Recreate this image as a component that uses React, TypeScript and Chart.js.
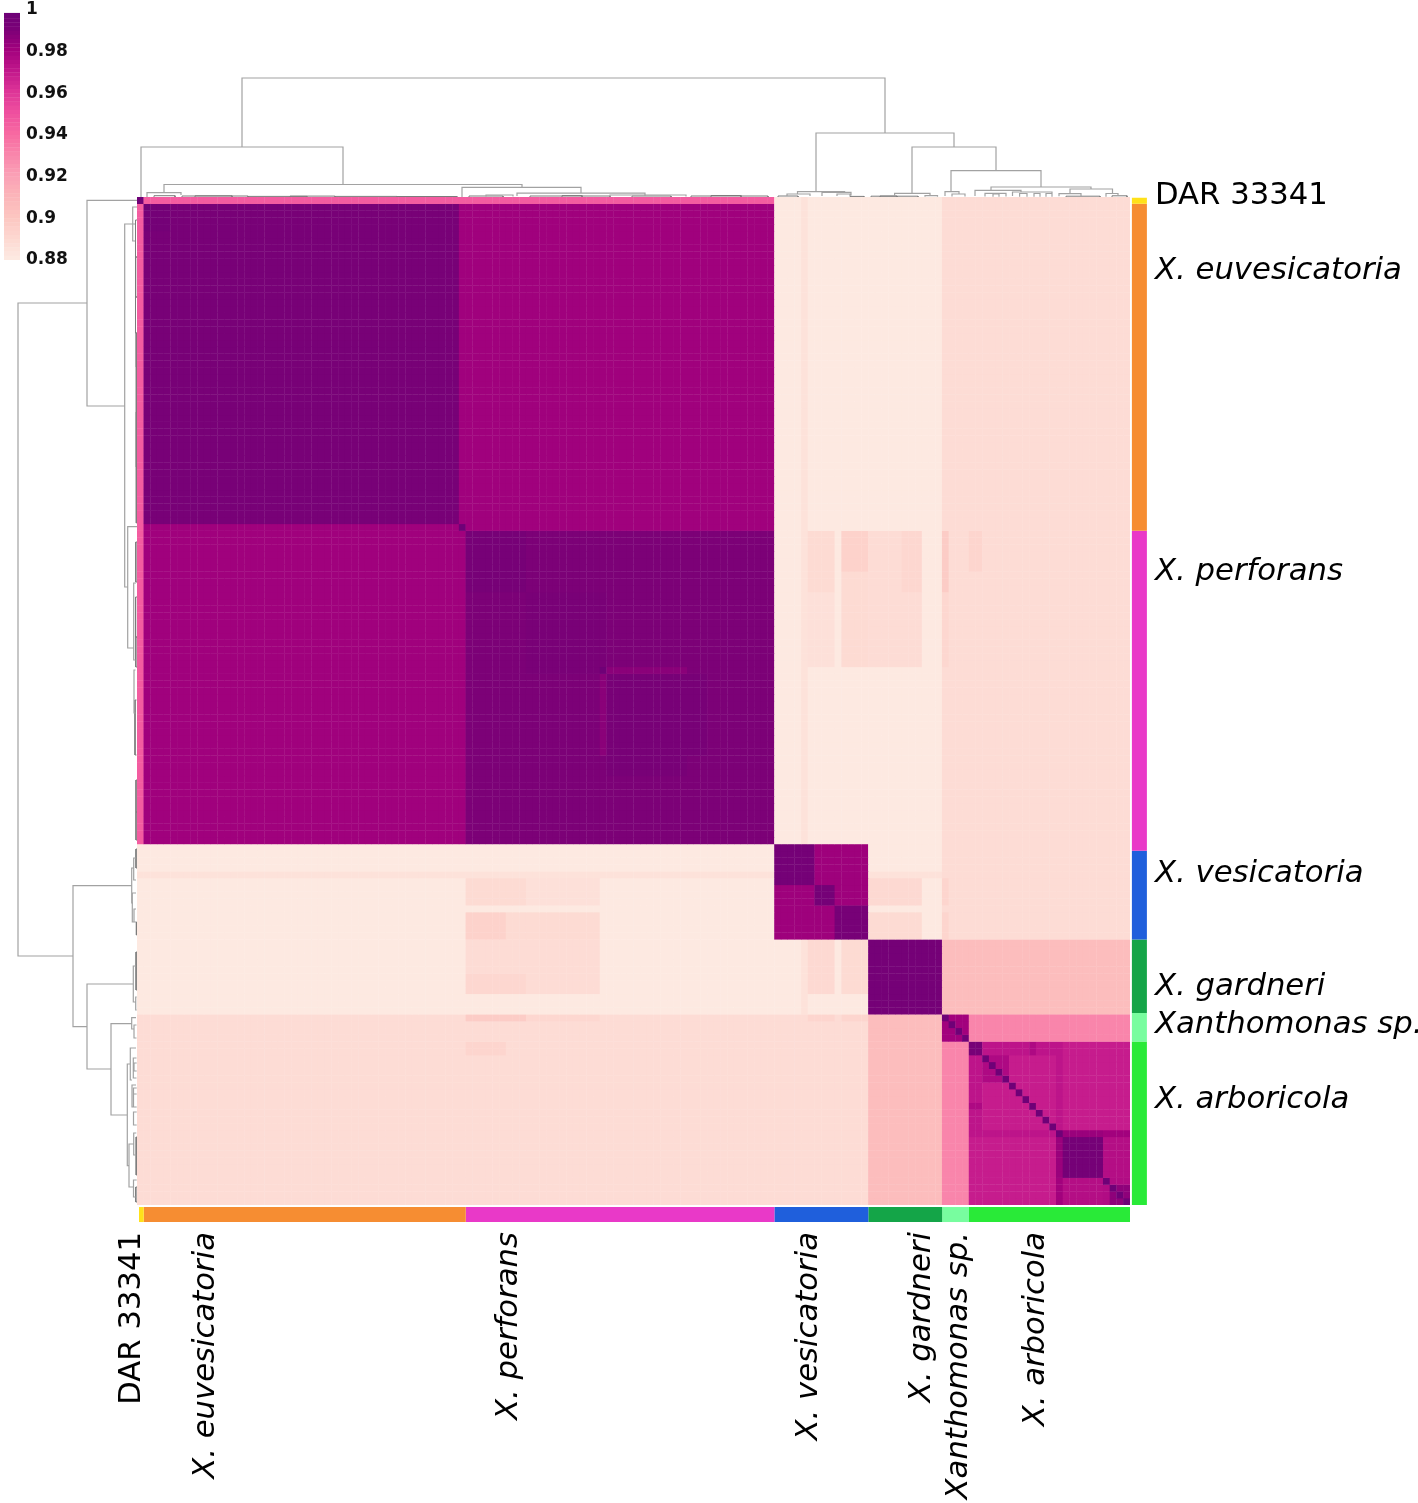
import React, { useEffect, useRef } from "react";
import { Chart, registerables } from "chart.js";

Chart.register(...registerables);

// ---------- data ----------
const GENOME_COUNT = 148;
const BASE_VALUE = 0.88;

// group boundaries (genome index) and colours of the annotation strips
const groupNames = ["DAR 33341", "X. euvesicatoria", "X. perforans", "X. vesicatoria", "X. gardneri", "Xanthomonas sp.", "X. arboricola"];
const columnGroupStarts = [0.3, 1, 49, 95, 109, 120, 124, 148];
const rowGroupStarts = [0.1, 1, 49, 96, 109, 119.8, 124, 148];
const groupColors = ["#ffe11a", "#f68d32", "#e939c8", "#1f5fdc", "#14a548", "#78fd9f", "#29ea38"];

// label anchors along each axis (genome index)
const xLabelAt = [-0.75, 10.25, 55.45, 100.15, 116.95, 122.55, 133.95];
const yLabelAt = [-0.14, 10.9, 55.1, 99.4, 116, 121.6, 132.6];

// identity blocks: [col0, col1, row0, row1, value], mirrored over the diagonal
const heatBlocks: number[][] = [
  [0, 1, 1, 95, 0.945],
  [120, 148, 0, 109, 0.887],
  [99, 100, 0, 95, 0.884],
  [109, 120, 99, 100, 0.884],
  [100, 104, 49, 69, 0.885],
  [100, 104, 49, 58, 0.888],
  [105, 109, 49, 69, 0.888],
  [105, 109, 49, 55, 0.893],
  [109, 117, 49, 69, 0.887],
  [114, 117, 49, 58, 0.89],
  [120, 121, 49, 69, 0.89],
  [120, 121, 49, 58, 0.896],
  [124, 126, 49, 55, 0.891],
  [109, 117, 100, 104, 0.889],
  [109, 117, 105, 109, 0.888],
  [120, 121, 100, 104, 0.891],
  [120, 121, 105, 109, 0.891],
  [120, 121, 109, 120, 0.905],
  [120, 148, 109, 120, 0.905],
  [120, 148, 120, 121, 0.895],
  [124, 148, 120, 124, 0.93],
  [120, 124, 120, 124, 0.98],
  [95, 109, 95, 109, 0.981],
  [95, 101, 95, 101, 0.993],
  [101, 104, 101, 104, 0.993],
  [104, 109, 104, 109, 0.992],
  [109, 120, 109, 120, 0.993],
  [1, 49, 1, 49, 0.9805],
  [1, 48, 1, 48, 0.991],
  [1, 5, 1, 5, 0.994],
  [49, 95, 1, 49, 0.9805],
  [49, 95, 49, 95, 0.9895],
  [49, 58, 49, 58, 0.992],
  [58, 70, 58, 70, 0.9905],
  [70, 82, 70, 85, 0.991],
  [70, 82, 69, 70, 0.986],
  [124, 148, 124, 148, 0.968],
  [126, 137, 124, 126, 0.971],
  [133, 134, 124, 126, 0.976],
  [137, 138, 124, 137, 0.971],
  [124, 126, 124, 126, 0.992],
  [126, 130, 126, 130, 0.976],
  [137, 144, 137, 144, 0.982],
  [138, 144, 138, 144, 0.993],
  [144, 148, 137, 138, 0.98],
  [144, 148, 138, 144, 0.974],
  [144, 148, 144, 148, 0.975],
  [145, 148, 145, 148, 0.985],
];
const darkDiagonal = [0, 1, 48, 69, 120, 121, 122, 123, 126, 127, 128, 129, 130, 131, 132, 133, 134, 135, 136, 137, 144, 145, 146, 147];
const DIAGONAL_VALUE = 0.997;

// colour scale stops
const paletteValues = [0.88, 0.89, 0.9, 0.91, 0.92, 0.93, 0.94, 0.95, 0.96, 0.97, 0.98, 0.99, 1];
const paletteColors = ["#fde9e1", "#fdd7d0", "#fcc5c0", "#fbb4b9", "#fa9fb5", "#f985ab", "#f768a1", "#ee4f9f", "#dd3497", "#c0168b", "#a2017d", "#7a0177", "#6a0177"];
const legendTicks = [0.88, 0.9, 0.92, 0.94, 0.96, 0.98, 1];
const legendTop = 0.9985;
const legendMarks = [0.888, 0.892, 0.896, 0.9, 0.904, 0.908, 0.912, 0.916, 0.92, 0.924, 0.928, 0.932, 0.936, 0.94, 0.944, 0.948, 0.952, 0.956, 0.96, 0.964, 0.968, 0.972, 0.976, 0.98, 0.984, 0.988, 0.992];

// dendrograms: [leafA, leafB, height, heightA, heightB]; leaves run 0..993 across and 0..1008 down
const topTree: number[][] = [
  [105, 748, 119, 50, 64],
  [4, 206, 50, 0, 12],
  [27, 385, 12.5, 4.5, 10],
  [10, 44, 4.3, 0, 2],
  [325, 444, 9.7, 0, 4],
  [380, 508, 3.8, 1, 1],
  [349, 376, 2, 0.6, 0.6],
  [473, 549, 2, 0.6, 0.6],
  [660.5, 707.6, 5.3, 3.5, 4],
  [650, 673, 3, 1, 1],
  [685, 714, 4.7, 1, 1.5],
  [700, 713, 3, 1, 1],
  [757.6, 793, 3.7, 1, 1.5],
  [788, 800.5, 1.3, 0.3, 0.3],
  [808, 822, 5.3, 1, 2.7],
  [815, 828, 3, 0.5, 0.5],
  [814, 904, 26.3, 5.3, 10],
  [775, 859, 50, 3.7, 26.3],
  [679, 817, 64, 5.3, 50],
  [854, 954, 10, 6.3, 8],
  [838, 884, 6.7, 1, 5],
  [848, 869, 3.7, 0.5, 0.5],
  [856, 862, 3, 0.3, 0.3],
  [875.5, 915, 5, 1, 1],
  [882.6, 890, 3.5, 0.3, 0.3],
  [897, 903, 3.5, 0.3, 0.3],
  [909, 915, 3.5, 0.3, 0.3],
  [922, 944, 3.3, 0.7, 0.7],
  [933, 975.5, 8, 3.3, 3.5],
  [969, 981, 3.5, 0.3, 1.3],
];
const leftTree: number[][] = [
  [106, 759, 119, 50, 64],
  [3.3, 209, 50, 0, 12.3],
  [27, 390, 12.3, 2, 9.3],
  [10, 44, 4.3, 0, 2],
  [329.7, 451, 9.3, 0, 3.3],
  [386, 463, 3.3, 1, 1.5],
  [473, 516, 3, 1.5, 1.5],
  [671, 706, 5.3, 3.5, 4],
  [661, 683, 3.3, 1, 1],
  [696, 725, 4.7, 1, 1.5],
  [712, 725, 3, 1, 1],
  [688.7, 829.7, 64, 5.3, 50],
  [787, 872, 50, 3.7, 26],
  [769, 805, 3.7, 1, 1.5],
  [800, 813, 1.3, 0.3, 0.3],
  [826.7, 918, 26, 5.3, 9.7],
  [820.7, 832, 5.3, 1, 2.7],
  [828, 841, 3, 0.5, 0.5],
  [867, 968.7, 9.7, 6.3, 8],
  [851, 883, 6.7, 1, 5],
  [861, 881, 3.7, 0.5, 0.5],
  [866, 874, 3, 0.3, 0.3],
  [888, 910, 5, 1, 1],
  [891, 897, 3.5, 0.3, 0.3],
  [897, 910, 3.5, 0.3, 0.3],
  [915, 928, 3.5, 0.3, 0.3],
  [947, 990, 8, 3.3, 3.5],
  [936, 958, 3.3, 0.7, 0.7],
  [983, 1000, 3.5, 0.3, 1.3],
];
// dense lowest merges, drawn darker: same layout
const topFringe: number[][] = [
  [17, 38, 1.3, 0, 0], [45, 111, 1, 0, 0], [58, 95, 1.2, 0, 0], [111, 170, 0.6, 0, 0], [153, 198, 0.9, 0, 0],
  [198, 260, 0.6, 0, 0], [260, 320, 0.5, 0, 0], [332, 366, 1, 0, 0], [393, 473, 1, 0, 0], [425, 445, 1.4, 0, 0],
  [495, 534, 1, 0, 0], [554, 631, 1, 0, 0], [574, 604, 1.5, 0, 0], [641, 661, 1, 0, 0], [713, 727, 0.6, 0, 0],
  [734, 781, 0.8, 0, 0], [743, 760, 1, 0, 0], [929, 963, 0.8, 0, 0], [975, 990, 1.2, 0, 0],
];
const leftFringe: number[][] = [
  [23, 60, 1.5, 0, 0], [60, 100, 1.4, 0, 0], [100, 136, 1.5, 0, 0], [136, 170, 0.8, 0, 0], [170, 215, 0.7, 0, 0],
  [215, 270, 0.8, 0, 0], [270, 326, 0.7, 0, 0], [345, 385, 1.2, 0, 0], [400, 440, 1.4, 0, 0], [440, 470, 1.2, 0, 0],
  [503, 558, 2, 0.5, 0.5], [583, 615, 1, 0, 0], [615, 643, 1, 0, 0], [652, 671, 1, 0, 0], [725, 738, 0.6, 0, 0],
  [755, 793, 0.9, 0, 0], [940, 978, 0.8, 0, 0], [990, 1005, 1.2, 0, 0],
];

// ---------- helpers ----------
const FONT = "'DejaVu Sans', Verdana, sans-serif";
const TREE_COLOR = "#a2a2a2";
const FRINGE_COLOR = "#7c7c7c";

function hexRgb(h: string) {
  return [1, 3, 5].map((i) => parseInt(h.slice(i, i + 2), 16));
}
function colorOf(v: number) {
  let i = 0;
  while (i < paletteValues.length - 2 && v > paletteValues[i + 1]) i++;
  const t = Math.max(0, Math.min(1, (v - paletteValues[i]) / (paletteValues[i + 1] - paletteValues[i])));
  const a = hexRgb(paletteColors[i]);
  const b = hexRgb(paletteColors[i + 1]);
  const c = a.map((x, k) => Math.round(x + (b[k] - x) * t));
  return `rgb(${c[0]},${c[1]},${c[2]})`;
}
function buildMatrix() {
  const m: number[][] = Array.from({ length: GENOME_COUNT }, () => new Array(GENOME_COUNT).fill(BASE_VALUE));
  for (const [c0, c1, r0, r1, v] of heatBlocks) {
    for (let c = c0; c < c1; c++) {
      for (let r = r0; r < r1; r++) {
        m[r][c] = v;
        m[c][r] = v;
      }
    }
  }
  for (const d of darkDiagonal) m[d][d] = DIAGONAL_VALUE;
  return m;
}
function topPath(tree: number[][]) {
  const pts: any[] = [];
  for (const [a, b, h, ha, hb] of tree) {
    pts.push({ x: a, y: ha }, { x: a, y: h }, { x: b, y: h }, { x: b, y: hb }, { x: null, y: null });
  }
  return pts;
}
function leftPath(tree: number[][]) {
  const pts: any[] = [];
  for (const [a, b, h, ha, hb] of tree) {
    pts.push({ x: ha, y: a }, { x: h, y: a }, { x: h, y: b }, { x: hb, y: b }, { x: null, y: null });
  }
  return pts;
}

function hiddenScale(axis: "x" | "y", min: number, max: number, reverse = false) {
  return { axis, type: "linear" as const, display: false, offset: false, min, max, reverse };
}

export default function App() {
  const mainRef = useRef<HTMLCanvasElement>(null);
  const legendRef = useRef<HTMLCanvasElement>(null);

  useEffect(() => {
    const matrix = buildMatrix();
    const cellSets: any[] = matrix.map((row, r) => ({
      type: "bar",
      grouped: false,
      xAxisID: "x",
      yAxisID: "y",
      data: row.map((_, c) => ({ x: c + 0.5, y: [r, r + 1] })),
      backgroundColor: row.map((v) => colorOf(v)),
      borderWidth: 0,
      inflateAmount: 0.2,
      barPercentage: 1,
      categoryPercentage: 1,
    }));
    const line = (extra: any) => ({
      type: "scatter",
      showLine: true,
      pointRadius: 0,
      clip: false,
      spanGaps: false,
      tension: 0,
      ...extra,
    });
    const stripSets: any[] = [];
    groupColors.forEach((color, i) => {
      stripSets.push(line({ xAxisID: "x", yAxisID: "y", borderColor: color, borderWidth: 15, borderCapStyle: "butt", data: [{ x: columnGroupStarts[i], y: 149.4 }, { x: columnGroupStarts[i + 1], y: 149.4 }] }));
      stripSets.push(line({ xAxisID: "x", yAxisID: "y", borderColor: color, borderWidth: 15, borderCapStyle: "butt", data: [{ x: 149.4, y: rowGroupStarts[i] }, { x: 149.4, y: rowGroupStarts[i + 1] }] }));
    });
    const treeSets: any[] = [
      line({ xAxisID: "leafX", yAxisID: "distTop", borderColor: TREE_COLOR, borderWidth: 1.2, data: topPath(topTree) }),
      line({ xAxisID: "distLeft", yAxisID: "leafY", borderColor: TREE_COLOR, borderWidth: 1.2, data: leftPath(leftTree) }),
      line({ xAxisID: "leafX", yAxisID: "distTop", borderColor: FRINGE_COLOR, borderWidth: 1, data: topPath(topFringe) }),
      line({ xAxisID: "distLeft", yAxisID: "leafY", borderColor: FRINGE_COLOR, borderWidth: 1, data: leftPath(leftFringe) }),
    ];

    const labelFont = (ctx: any) => ({ family: FONT, size: 30.7, style: ctx.index === 0 ? "normal" : "italic" });

    const main = new Chart(mainRef.current!, {
      type: "bar",
      data: { datasets: [...cellSets, ...stripSets, ...treeSets] },
      options: {
        animation: false,
        responsive: false,
        devicePixelRatio: 1,
        events: [],
        layout: { padding: { left: 137, top: 197, right: 0, bottom: 0 } },
        plugins: { legend: { display: false }, tooltip: { enabled: false } },
        scales: {
          x: {
            type: "linear",
            position: "bottom",
            offset: false,
            min: 0,
            max: GENOME_COUNT,
            grid: { display: false, drawTicks: false },
            border: { display: false },
            afterBuildTicks: (s: any) => {
              s.ticks = xLabelAt.map((value) => ({ value }));
            },
            afterFit: (s: any) => {
              s.height = 298;
            },
            ticks: {
              autoSkip: false,
              minRotation: 90,
              maxRotation: 90,
              padding: 27,
              color: "#000",
              font: labelFont,
              callback: (_: any, i: number) => groupNames[i],
            },
          },
          y: {
            type: "linear",
            position: "right",
            min: 0,
            max: GENOME_COUNT,
            reverse: true,
            grid: { display: false, drawTicks: false },
            border: { display: false },
            afterBuildTicks: (s: any) => {
              s.ticks = yLabelAt.map((value) => ({ value }));
            },
            afterFit: (s: any) => {
              s.width = 288;
            },
            ticks: {
              autoSkip: false,
              padding: 25,
              color: "#000",
              font: labelFont,
              callback: (_: any, i: number) => groupNames[i],
            },
          },
          leafX: hiddenScale("x", 0, 993),
          leafY: hiddenScale("y", 0, 1008, true),
          distTop: hiddenScale("y", -1008, 0),
          distLeft: hiddenScale("x", -993, 0, true),
        } as any,
      } as any,
    });

    const steps: number[] = [];
    for (let v = paletteValues[0]; v < legendTop - 1e-6; v += 0.002) steps.push(v);
    const legend = new Chart(legendRef.current!, {
      type: "bar",
      data: {
        datasets: [
          ...steps.map((v) => ({
            grouped: false,
            data: [{ x: 0.5, y: [v, Math.min(v + 0.002, legendTop)] }],
            backgroundColor: colorOf(v),
            borderWidth: 0,
            inflateAmount: 0.2,
            barPercentage: 1,
            categoryPercentage: 1,
          })),
          {
            type: "scatter",
            data: legendMarks.map((y) => ({ x: 0.04, y })),
            pointRadius: 0.7,
            pointBorderWidth: 0,
            pointBackgroundColor: "#ffffff",
            showLine: false,
          },
        ] as any,
      },
      options: {
        animation: false,
        responsive: false,
        devicePixelRatio: 1,
        events: [],
        layout: { padding: { left: 4, top: 28, right: 0, bottom: 22 } },
        plugins: { legend: { display: false }, tooltip: { enabled: false } },
        scales: {
          x: { type: "linear", display: false, offset: false, min: 0, max: 1 },
          y: {
            type: "linear",
            position: "right",
            min: legendTicks[0],
            max: 1,
            grid: { display: false, drawTicks: false },
            border: { display: false },
            afterBuildTicks: (s: any) => {
              s.ticks = legendTicks.map((value) => ({ value }));
            },
            afterFit: (s: any) => {
              s.width = 80;
            },
            ticks: {
              padding: 6,
              color: "#111",
              font: { family: FONT, size: 17, weight: "bold" },
              callback: (v: any) => String(v),
            },
          },
        },
      } as any,
    });

    return () => {
      main.destroy();
      legend.destroy();
    };
  }, []);

  return (
    <div style={{ position: "absolute", left: 0, top: 0, width: 1418, height: 1503, overflow: "hidden", background: "#fff" }}>
      <canvas ref={mainRef} width={1418} height={1503} style={{ position: "absolute", left: 0, top: 0, display: "block" }} />
      <canvas ref={legendRef} width={100} height={300} style={{ position: "absolute", left: 0, top: -18, display: "block" }} />
    </div>
  );
}
